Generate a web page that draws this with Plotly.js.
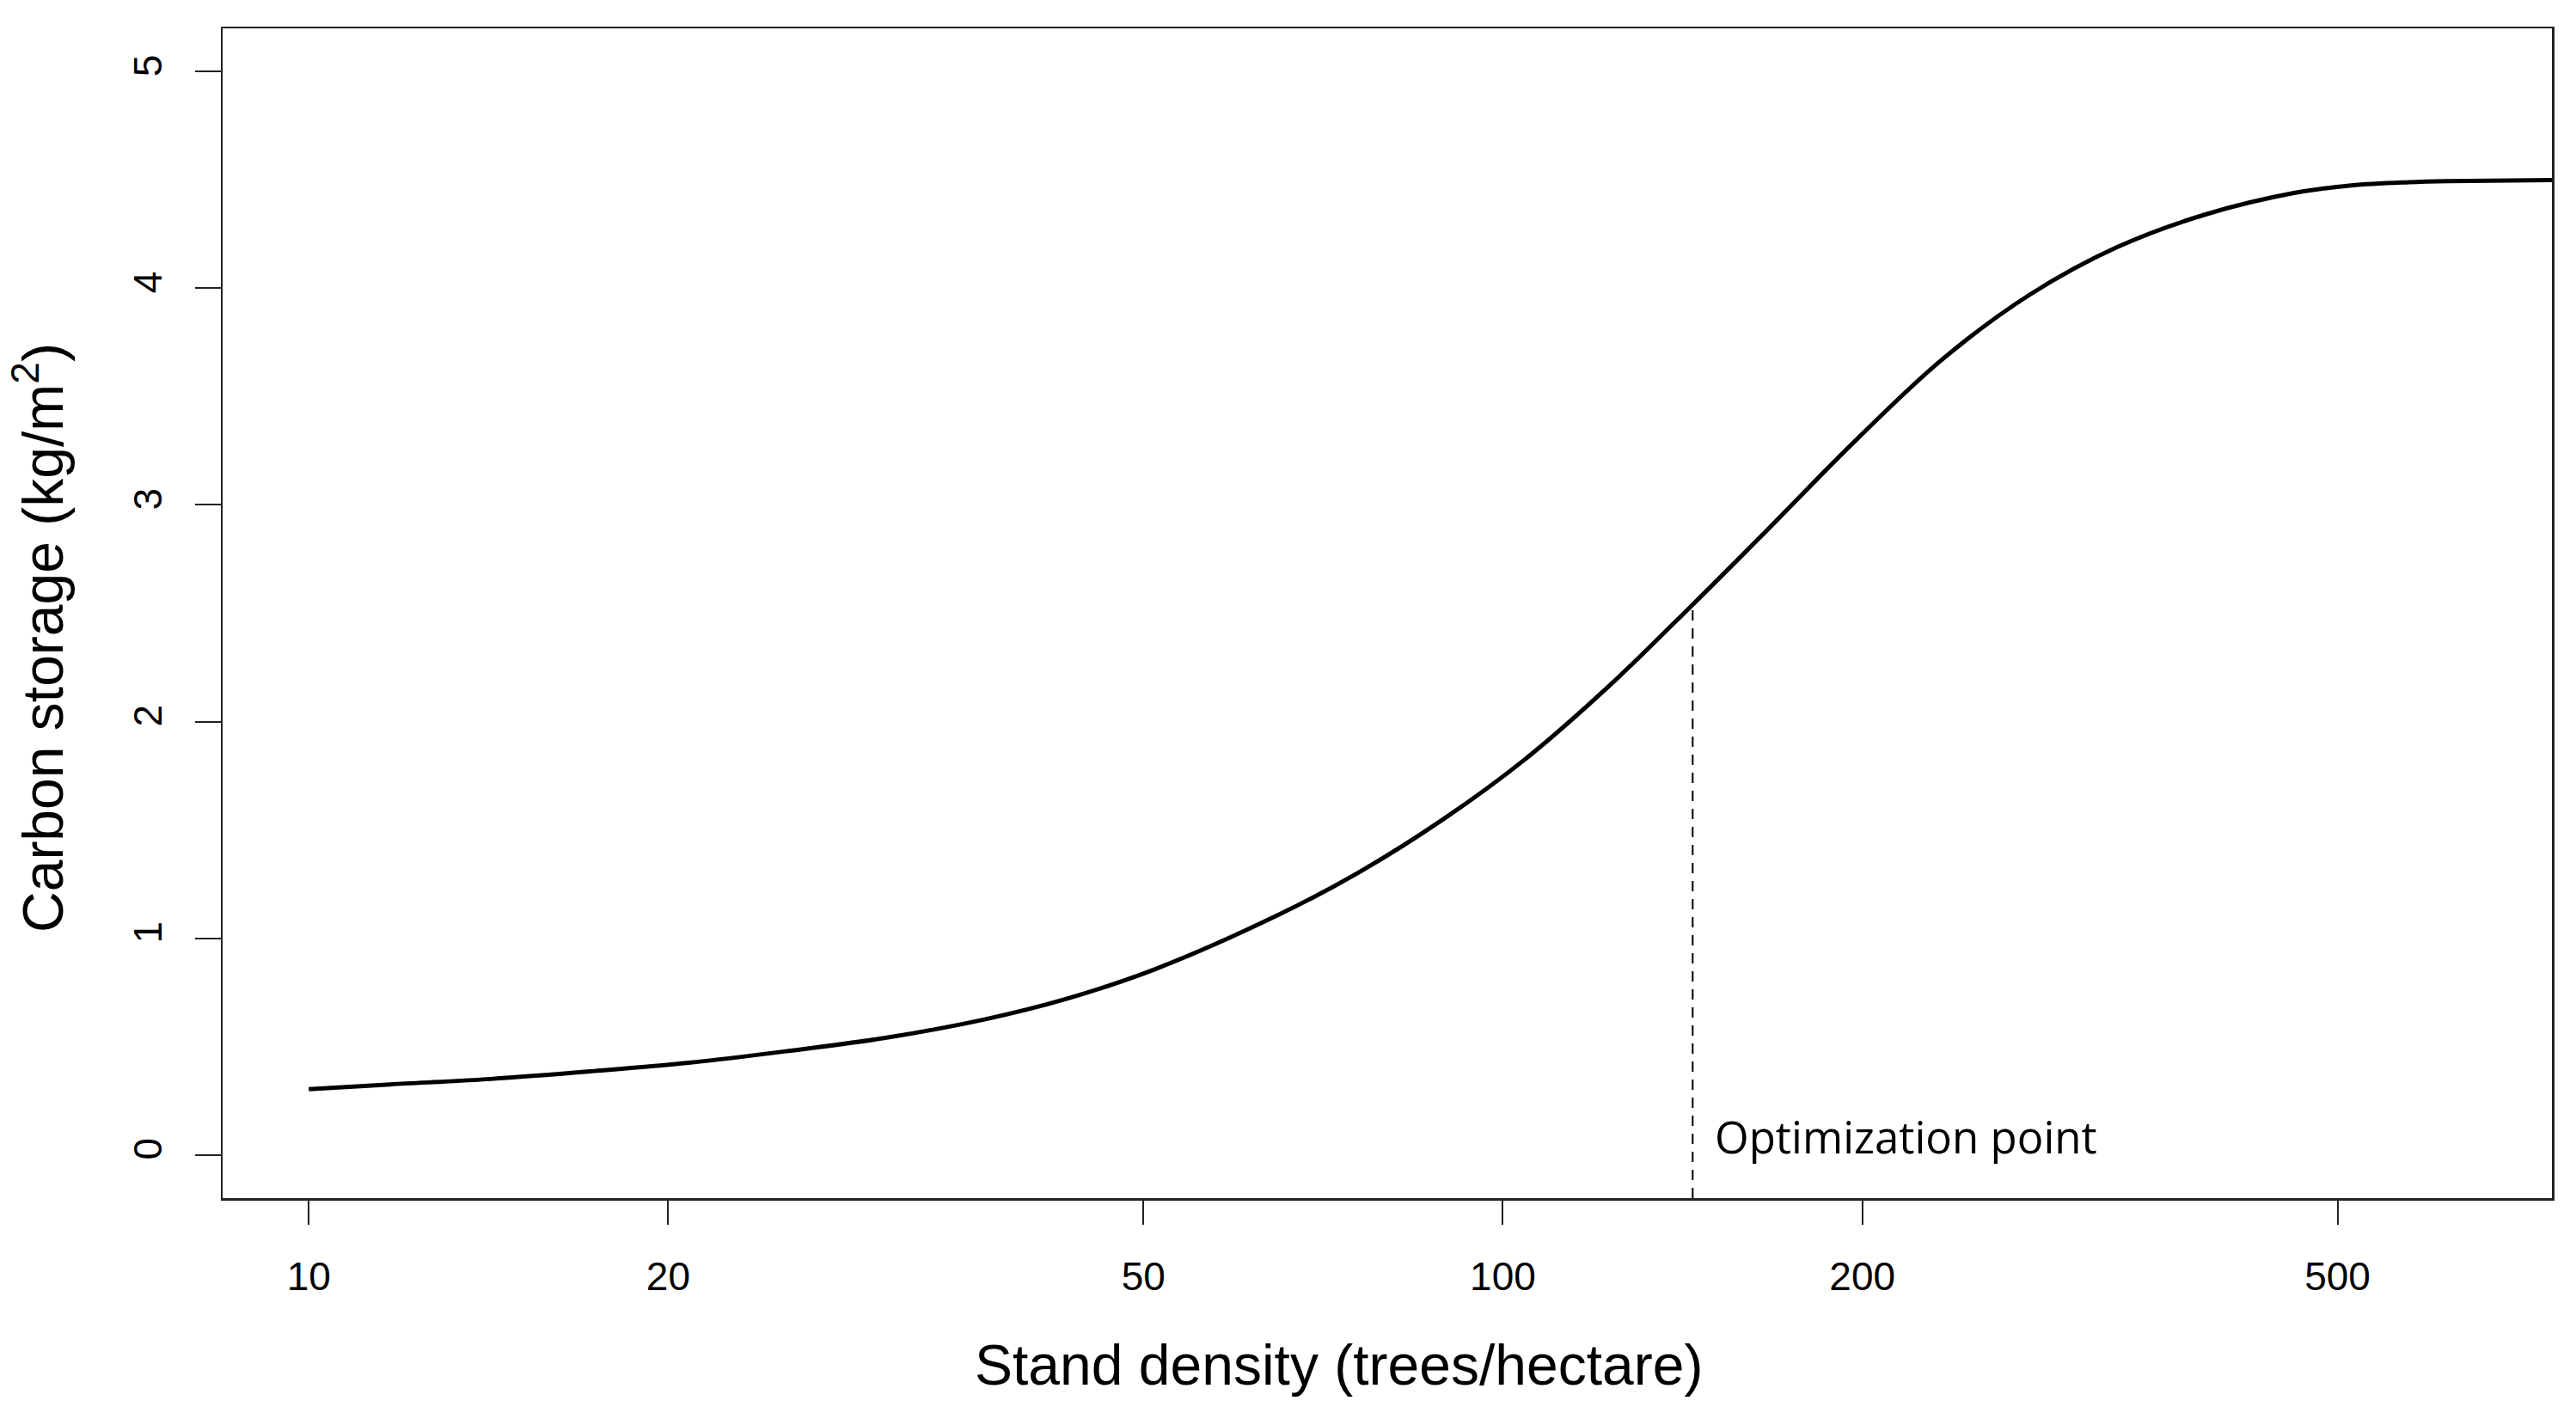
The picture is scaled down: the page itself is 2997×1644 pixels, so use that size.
<!DOCTYPE html>
<html>
<head>
<meta charset="utf-8">
<script src="https://cdn.plot.ly/plotly-3.0.1.min.js"></script>
<style>
  html, body { margin: 0; padding: 0; background: #ffffff; }
  #chart { width: 2997px; height: 1644px; }
</style>
</head>
<body>
<div id="chart"></div>
<script>
// ---- Data ----
const standDensity = [10, 11.7, 14.2, 17.2, 20.8, 25.1, 30.4, 36.8, 43.1, 51.2, 65, 76.1, 89.2, 104.6, 122.5, 144.2, 166.2, 196.8, 233.1, 276.1, 326.9, 387.1, 459.8, 513.4, 573.7, 619.8, 760];
const carbonStorage = [0.303, 0.325, 0.35, 0.385, 0.425, 0.478, 0.54, 0.625, 0.72, 0.858, 1.11, 1.31, 1.55, 1.83, 2.16, 2.54, 2.88, 3.29, 3.67, 3.97, 4.19, 4.34, 4.44, 4.475, 4.49, 4.495, 4.5];

const optDensity = 144.2;
const optCarbon = 2.54;
const optLabel = "Optimization point";

const xTickValues = [10, 20, 50, 100, 200, 500];
const xTickLabels = ["10", "20", "50", "100", "200", "500"];
const yTickValues = [0, 1, 2, 3, 4, 5];
const yTickLabels = ["0", "1", "2", "3", "4", "5"];

const xTitle = "Stand density (trees/hectare)";
const yTitle = "Carbon storage (kg/m<sup>2</sup>)";

// ---- Layout settings ----
const yRange = [-0.2, 5.2];
const xRangeLog = [0.92786, 2.87855];
const axisFont = "Liberation Sans, Arial, Helvetica, sans-serif";

const traces = [
  {
    type: "scatter",
    mode: "lines",
    x: standDensity,
    y: carbonStorage,
    line: { color: "#000000", width: 5, shape: "spline", smoothing: 1 },
    hoverinfo: "skip",
    showlegend: false
  },
  {
    type: "scatter",
    mode: "lines",
    x: [optDensity, optDensity],
    y: [yRange[0], optCarbon],
    line: { color: "#000000", width: 2, dash: "12px,9px" },
    hoverinfo: "skip",
    showlegend: false
  }
];

const layout = {
  width: 2997,
  height: 1644,
  margin: { l: 259, r: 28, t: 33, b: 250, pad: 0 },
  paper_bgcolor: "#ffffff",
  plot_bgcolor: "#ffffff",
  showlegend: false,
  font: { family: axisFont, color: "#000000" },
  xaxis: {
    type: "log",
    range: xRangeLog,
    tickmode: "array",
    tickvals: xTickValues,
    ticktext: xTickLabels,
    ticks: "outside",
    ticklen: 28,
    tickwidth: 2,
    tickcolor: "#222222",
    ticklabelstandoff: 21,
    tickfont: { family: axisFont, size: 46, color: "#000000" },
    showline: true,
    linecolor: "#222222",
    linewidth: 2.5,
    mirror: true,
    showgrid: false,
    zeroline: false
  },
  yaxis: {
    range: yRange,
    tickmode: "array",
    tickvals: yTickValues,
    ticktext: yTickLabels,
    tickangle: -90,
    ticks: "outside",
    ticklen: 30,
    tickwidth: 2,
    tickcolor: "#222222",
    ticklabelstandoff: 20,
    tickfont: { family: axisFont, size: 46, color: "#000000" },
    showline: true,
    linecolor: "#222222",
    linewidth: 2.5,
    mirror: true,
    showgrid: false,
    zeroline: false
  },
  annotations: [
    {
      text: xTitle,
      xref: "paper", yref: "paper",
      x: 0.479, y: -0.1423,
      xanchor: "center", yanchor: "middle",
      showarrow: false,
      font: { family: axisFont, size: 66, color: "#000000" }
    },
    {
      text: yTitle,
      xref: "paper", yref: "paper",
      x: -0.079, y: 0.479,
      xanchor: "center", yanchor: "middle",
      textangle: -90,
      showarrow: false,
      font: { family: axisFont, size: 66, color: "#000000" }
    },
    {
      text: optLabel,
      xref: "x", yref: "y",
      x: Math.log10(optDensity), y: 0.084,
      xanchor: "left", yanchor: "middle",
      xshift: 24,
      showarrow: false,
      font: { family: "Open Sans, Noto Sans, sans-serif", size: 51, color: "#000000" }
    }
  ]
};

Plotly.newPlot("chart", traces, layout, { staticPlot: true, displayModeBar: false });
</script>
</body>
</html>
